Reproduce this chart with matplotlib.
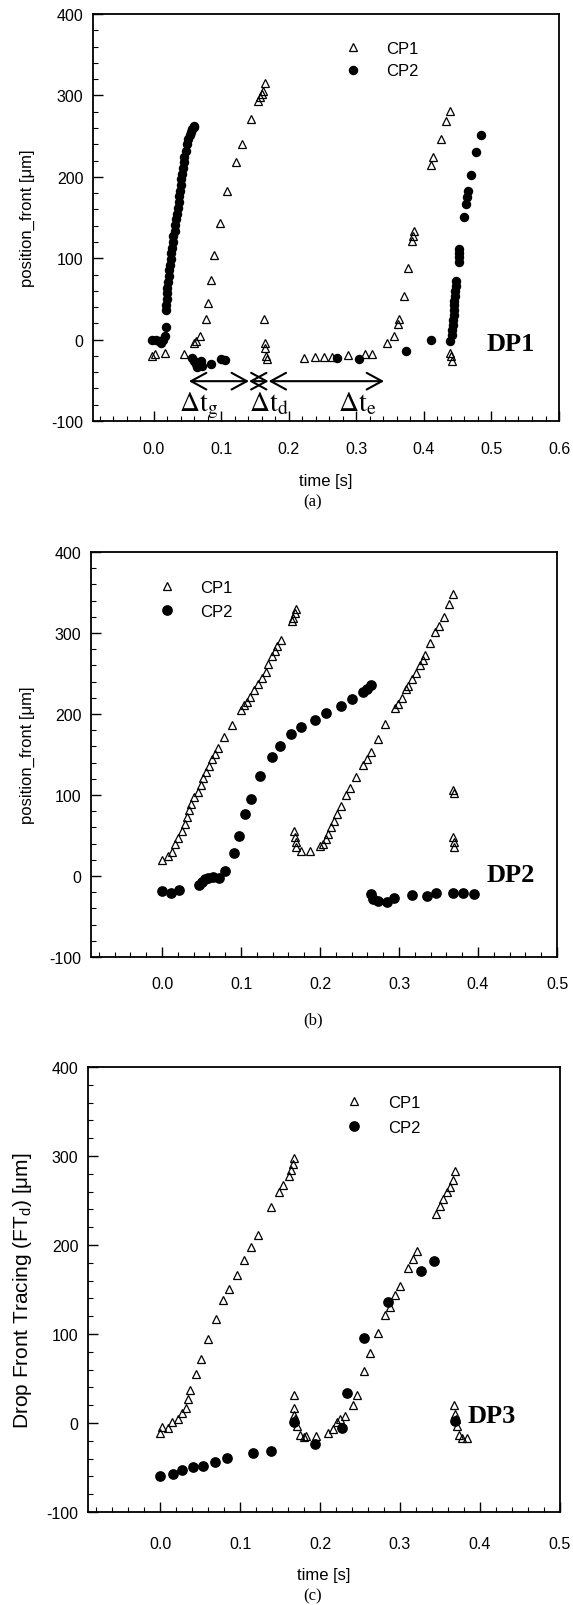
import matplotlib
matplotlib.use('Agg')
import matplotlib.pyplot as plt
from matplotlib.ticker import MultipleLocator, FormatStrFormatter

plt.rcParams['font.family'] = ['Liberation Sans', 'DejaVu Sans']
plt.rcParams['axes.unicode_minus'] = False
plt.rcParams['mathtext.fontset'] = 'custom'
plt.rcParams['mathtext.rm'] = 'Liberation Sans'

# ---- panel (a) DP1 ----
a_cp1_t = [-0.002, 0.002, 0.017, 0.045, 0.060, 0.062, 0.069, 0.077, 0.080, 0.084,
           0.089, 0.098, 0.109, 0.122, 0.130, 0.144, 0.155, 0.157, 0.160, 0.162,
           0.164, 0.163, 0.164, 0.165, 0.166, 0.167, 0.223, 0.238, 0.252, 0.264,
           0.287, 0.312, 0.323, 0.346, 0.355, 0.361, 0.363, 0.371, 0.376, 0.383,
           0.384, 0.385, 0.410, 0.414, 0.425, 0.432, 0.439, 0.438, 0.440, 0.441]
a_cp1_y = [-20, -18, -16, -17, -4, -2, 4, 25, 45, 73,
           104, 143, 183, 218, 241, 271, 293, 298, 302, 306,
           315, 25, -4, -10, -20, -24, -22, -21, -21, -21,
           -19, -18, -18, -4, 5, 19, 26, 54, 88, 121,
           127, 133, 214, 224, 247, 269, 281, -16, -20, -26]

a_cp2_t = [-0.002, 0.004, 0.008, 0.011, 0.014, 0.017, 0.018,
           0.018, 0.018, 0.019, 0.019, 0.020, 0.021, 0.022, 0.023, 0.024, 0.025,
           0.026, 0.027, 0.028, 0.029, 0.031, 0.032, 0.033, 0.034, 0.036, 0.037,
           0.038, 0.039, 0.040, 0.041, 0.042, 0.043, 0.044, 0.045, 0.047, 0.049,
           0.051, 0.053, 0.055, 0.057, 0.059, 0.060,
           0.057, 0.060, 0.062, 0.064, 0.066, 0.068, 0.070, 0.072, 0.085, 0.100, 0.106,
           0.271, 0.304, 0.374, 0.410, 0.439,
           0.441, 0.442, 0.443, 0.443, 0.444, 0.444, 0.445, 0.445, 0.446, 0.446,
           0.447, 0.447, 0.452, 0.452, 0.452, 0.452, 0.459, 0.462, 0.464, 0.465,
           0.470, 0.477, 0.484]
a_cp2_y = [0, -1, -2, -4, -1, 4, 15,
           37, 43, 50, 57, 64, 71, 78, 85, 92, 99,
           106, 113, 120, 127, 134, 141, 148, 155, 162, 169,
           176, 183, 190, 197, 204, 211, 218, 225, 232, 240,
           246, 251, 255, 259, 261, 262,
           -22, -26, -30, -34, -30, -28, -26, -32, -30, -24, -25,
           -22, -24, -14, 0, -2,
           6, 12, 18, 24, 30, 36, 42, 48, 54, 60,
           66, 72, 96, 101, 106, 112, 151, 167, 175, 183,
           202, 231, 251]

# ---- panel (b) DP2 ----
b_cp1_t = [0.000, 0.008, 0.012, 0.016, 0.020, 0.025, 0.029, 0.031, 0.034, 0.037,
           0.041, 0.045, 0.049, 0.052, 0.056, 0.059, 0.063, 0.067, 0.071, 0.079,
           0.089, 0.100, 0.104, 0.107, 0.111, 0.116, 0.122, 0.127, 0.131, 0.134,
           0.139, 0.143, 0.146, 0.150, 0.164, 0.166, 0.168, 0.169,
           0.167, 0.168, 0.169, 0.170, 0.176, 0.187,
           0.200, 0.204, 0.207, 0.210, 0.214, 0.218, 0.222, 0.226, 0.233, 0.238,
           0.245, 0.254, 0.260, 0.265, 0.273, 0.282, 0.295, 0.299, 0.304, 0.309,
           0.311, 0.316, 0.321, 0.326, 0.330, 0.333, 0.339, 0.346, 0.351, 0.357,
           0.363, 0.368,
           0.368, 0.369, 0.368, 0.369, 0.370]
b_cp1_y = [20, 25, 30, 40, 47, 55, 64, 73, 81, 89,
           97, 104, 112, 121, 128, 136, 144, 151, 158, 172,
           186, 205, 211, 215, 221, 229, 237, 245, 252, 262,
           272, 278, 284, 291, 315, 319, 325, 330,
           56, 48, 42, 36, 31, 31,
           37, 40, 46, 52, 60, 68, 77, 86, 100, 108,
           122, 137, 145, 153, 169, 188, 207, 212, 220, 231,
           234, 243, 251, 260, 267, 273, 287, 301, 309, 320,
           336, 348,
           106, 103, 48, 42, 36]

b_cp2_t = [0.000, 0.011, 0.022, 0.047, 0.050, 0.054, 0.058, 0.064, 0.072,
           0.080, 0.091, 0.098, 0.105, 0.112, 0.124, 0.139, 0.149, 0.163, 0.176,
           0.194, 0.208, 0.227, 0.241, 0.254, 0.259, 0.265,
           0.264, 0.267, 0.273, 0.285, 0.294, 0.316, 0.336, 0.347, 0.368, 0.381, 0.395]
b_cp2_y = [-18, -21, -17, -11, -7, -4, -3, -1, -2,
           6, 28, 49, 77, 95, 124, 147, 160, 175, 184,
           193, 201, 210, 219, 227, 231, 236,
           -22, -28, -31, -32, -27, -24, -25, -21, -21, -21, -22]

# ---- panel (c) DP3 ----
c_cp1_t = [0.000, 0.003, 0.010, 0.015, 0.023, 0.028, 0.032, 0.035, 0.038, 0.045,
           0.051, 0.060, 0.070, 0.079, 0.086, 0.096, 0.105, 0.114, 0.123, 0.139,
           0.149, 0.154, 0.161, 0.164, 0.166, 0.168,
           0.167, 0.167, 0.167, 0.169, 0.171, 0.175, 0.180, 0.182, 0.195, 0.210,
           0.216, 0.221, 0.225, 0.231, 0.241, 0.246, 0.255, 0.263, 0.272, 0.281,
           0.287, 0.294, 0.300, 0.310, 0.316, 0.321, 0.345, 0.350, 0.354, 0.359,
           0.363, 0.366, 0.369,
           0.368, 0.369, 0.370, 0.371, 0.374, 0.378, 0.384]
c_cp1_y = [-11, -4, -6, 1, 4, 11, 17, 27, 37, 55,
           72, 94, 117, 138, 151, 166, 183, 198, 211, 243,
           259, 267, 278, 284, 291, 298,
           31, 17, 9, 4, -3, -14, -16, -15, -15, -11,
           -7, 1, 4, 8, 20, 31, 58, 79, 101, 121,
           130, 144, 154, 174, 184, 193, 235, 244, 252, 259,
           265, 273, 283,
           20, 10, 4, -3, -14, -17, -17]

c_cp2_t = [0.000, 0.016, 0.027, 0.041, 0.054, 0.069, 0.084, 0.116, 0.139,
           0.168, 0.194, 0.227, 0.234, 0.255, 0.285, 0.326, 0.343, 0.369]
c_cp2_y = [-60, -57, -53, -49, -48, -44, -39, -34, -31,
           1, -24, -6, 34, 96, 136, 171, 182, 2]

legend_labels = ['CP1', 'CP2']


def setup(ax, xmax, xpad):
    ax.set_xlim(-0.09, xmax)
    ax.set_ylim(-100, 400)
    ax.xaxis.set_major_locator(MultipleLocator(0.1))
    ax.xaxis.set_minor_locator(MultipleLocator(0.02))
    ax.yaxis.set_major_locator(MultipleLocator(100))
    ax.yaxis.set_minor_locator(MultipleLocator(20))
    ax.xaxis.set_major_formatter(FormatStrFormatter('%.1f'))
    ax.tick_params(which='both', direction='in', top=False, right=False)
    ax.tick_params(which='major', length=7, width=1)
    ax.tick_params(which='minor', length=3.5, width=0.8)
    ax.tick_params(axis='x', which='major', pad=xpad, labelsize=11.5)
    ax.tick_params(axis='y', which='major', pad=7, labelsize=11.5)
    for s in ax.spines.values():
        s.set_linewidth(1.3)


def draw(ax, t1, y1, t2, y2, tri, dot):
    h1, = ax.plot(t1, y1, ls='none', marker='^', ms=tri, mfc='none',
                  mec='black', mew=0.9)
    h2, = ax.plot(t2, y2, ls='none', marker='o', ms=dot, mfc='black',
                  mec='black')
    return h1, h2


fig = plt.figure(figsize=(5.73, 16.06), dpi=100)
ax1 = fig.add_axes([0.1623, 0.7372, 0.8133, 0.2534])
ax2 = fig.add_axes([0.1588, 0.4035, 0.8133, 0.2522])
ax3 = fig.add_axes([0.1536, 0.0579, 0.8237, 0.2771])

# (a)
setup(ax1, 0.6, 14)
h = draw(ax1, a_cp1_t, a_cp1_y, a_cp2_t, a_cp2_y, 5.3, 5.8)
ax1.legend(h, legend_labels, loc='upper left', bbox_to_anchor=(0.54, 0.934),
           frameon=False, fontsize=12, handlelength=1.0, handletextpad=1.5,
           labelspacing=0.45, borderpad=0, borderaxespad=0, numpoints=1)
ax1.set_ylabel('position_front [μm]', fontsize=12)
ax1.yaxis.set_label_coords(-0.125, 0.5)
ax1.set_xlabel('time [s]', fontsize=12)
ax1.xaxis.set_label_coords(0.5, -0.128)
ax1.text(0.493, -13, 'DP1', family='Liberation Serif', weight='bold',
         fontsize=19, va='baseline', ha='left')
arrow = dict(arrowstyle='<->,head_length=1.1,head_width=0.6', lw=1.5,
             color='black', shrinkA=0, shrinkB=0)
ax1.annotate('', xy=(0.141, -51), xytext=(0.052, -51), arrowprops=arrow)
ax1.annotate('', xy=(0.170, -51), xytext=(0.141, -51), arrowprops=arrow)
ax1.annotate('', xy=(0.341, -51), xytext=(0.170, -51), arrowprops=arrow)
for tx, lab in [(0.067, 'g'), (0.170, 'd'), (0.301, 'e')]:
    ax1.text(tx, -87, r'$\Delta\mathrm{t}_\mathrm{%s}$' % lab, fontsize=20,
             ha='center', va='baseline', math_fontfamily='stix')

# (b)
setup(ax2, 0.5, 14)
h = draw(ax2, b_cp1_t, b_cp1_y, b_cp2_t, b_cp2_y, 5.8, 6.7)
ax2.legend(h, legend_labels, loc='upper left', bbox_to_anchor=(0.145, 0.931),
           frameon=False, fontsize=12, handlelength=1.0, handletextpad=1.5,
           labelspacing=0.55, borderpad=0, borderaxespad=0, numpoints=1)
ax2.set_ylabel('position_front [μm]', fontsize=12)
ax2.yaxis.set_label_coords(-0.12, 0.5)
ax2.text(0.411, -6, 'DP2', family='Liberation Serif', weight='bold',
         fontsize=19, va='baseline', ha='left')

# (c)
setup(ax3, 0.5, 17)
h = draw(ax3, c_cp1_t, c_cp1_y, c_cp2_t, c_cp2_y, 5.8, 6.7)
ax3.legend(h, legend_labels, loc='upper left', bbox_to_anchor=(0.546, 0.937),
           frameon=False, fontsize=12, handlelength=1.0, handletextpad=1.55,
           labelspacing=0.6, borderpad=0, borderaxespad=0, numpoints=1)
ax3.set_ylabel('Drop Front Tracing (FT$_\\mathrm{d}$) [μm]', fontsize=15)
ax3.yaxis.set_label_coords(-0.114, 0.5)
ax3.set_xlabel('time [s]', fontsize=12)
ax3.xaxis.set_label_coords(0.5, -0.124)
ax3.text(0.385, 1, 'DP3', family='Liberation Serif', weight='bold',
         fontsize=19, va='baseline', ha='left')

# panel captions
for yy, cap in [(502, '(a)'), (1020, '(b)'), (1596, '(c)')]:
    fig.text(313 / 573, 1 - yy / 1606, cap, family='Liberation Serif',
             fontsize=12, ha='center', va='center')

fig.savefig('out.png', dpi=100)
